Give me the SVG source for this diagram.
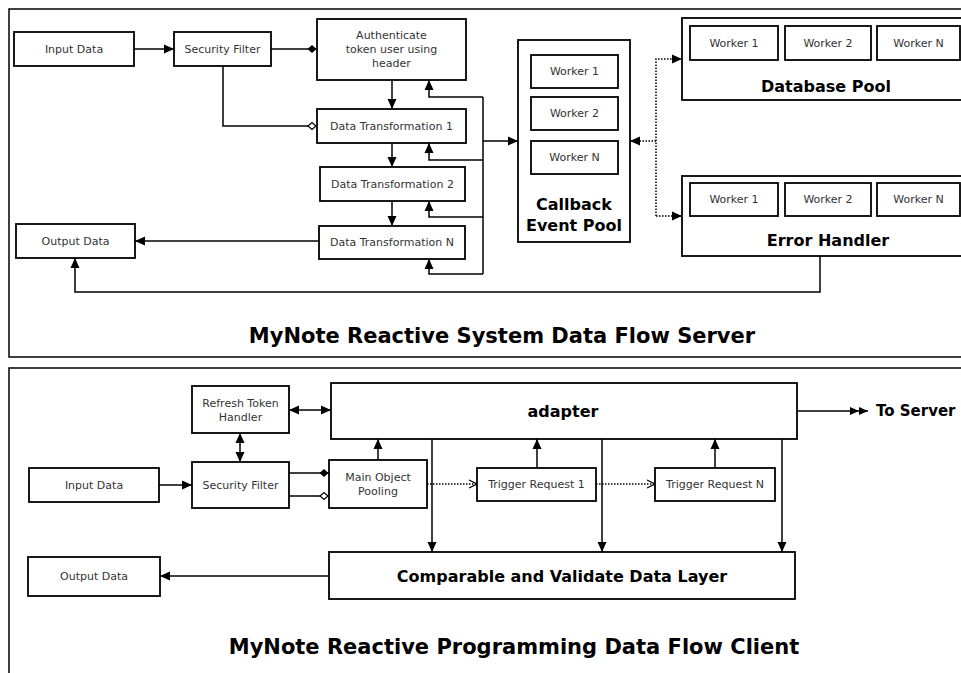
<svg xmlns="http://www.w3.org/2000/svg" width="961" height="673" viewBox="0 0 961 673">
<style>
.frame{fill:none;stroke:#000;stroke-width:1.5}
.box{fill:#fff;stroke:#000;stroke-width:1.8}
.t{font-family:"DejaVu Sans",sans-serif;font-size:11px;fill:#333;text-anchor:middle}
.b{font-family:"DejaVu Sans",sans-serif;font-weight:bold;font-size:16px;fill:#000;text-anchor:middle}
.title{font-family:"DejaVu Sans",sans-serif;font-weight:bold;font-size:21px;fill:#000;text-anchor:middle}
.c{fill:none;stroke:#000;stroke-width:1.5}
.d{fill:none;stroke:#000;stroke-width:1.5;stroke-dasharray:1.5,1.5}
</style>
<defs>
<marker id="arr" viewBox="0 0 10 10" markerUnits="userSpaceOnUse" markerWidth="10" markerHeight="10" refX="10" refY="5" orient="auto-start-reverse"><path d="M0,0.5 L10,5 L0,9.5 z" fill="#000"/></marker>
<marker id="dia" viewBox="0 0 10 10" markerUnits="userSpaceOnUse" markerWidth="10" markerHeight="10" refX="10" refY="5" orient="auto"><path d="M0.5,5 L5,1 L9.5,5 L5,9 z" fill="#000"/></marker>
<marker id="odia" viewBox="0 0 10 10" markerUnits="userSpaceOnUse" markerWidth="10" markerHeight="10" refX="10" refY="5" orient="auto"><path d="M1,5 L5,1.5 L9,5 L5,8.5 z" fill="#fff" stroke="#000" stroke-width="1.2"/></marker>
<marker id="vee" viewBox="0 0 10 10" markerUnits="userSpaceOnUse" markerWidth="10" markerHeight="10" refX="9" refY="5" orient="auto"><path d="M1,1 L9,5 L1,9" fill="none" stroke="#000" stroke-width="1.2"/></marker>
<marker id="dbl" viewBox="0 0 20 10" markerUnits="userSpaceOnUse" markerWidth="20" markerHeight="10" refX="18" refY="5" orient="auto"><path d="M0,1 L9,5 L0,9 z M9,1 L18,5 L9,9 z" fill="#000"/></marker>
</defs>

<g id="frames">
<rect class="frame" x="9" y="9" width="980" height="348"/>
<rect class="frame" x="9" y="368" width="980" height="340"/>
</g>

<g id="connectors">
<path class="c" d="M134,49 H174" marker-end="url(#arr)"/>
<path class="c" d="M271,49 H317" marker-end="url(#dia)"/>
<path class="c" d="M223,66 V126 H317" marker-end="url(#odia)"/>
<path class="c" d="M392,80 V109" marker-end="url(#arr)"/>
<path class="c" d="M392,143 V167" marker-end="url(#arr)"/>
<path class="c" d="M392,201 V226" marker-end="url(#arr)"/>
<path class="c" d="M483,97 H429 V80" marker-end="url(#arr)"/>
<path class="c" d="M483,97 V274"/>
<path class="c" d="M483,160 H429 V143" marker-end="url(#arr)"/>
<path class="c" d="M483,217 H429 V201" marker-end="url(#arr)"/>
<path class="c" d="M483,274 H429 V259" marker-end="url(#arr)"/>
<path class="c" d="M483,141 H518" marker-end="url(#arr)"/>
<path class="d" d="M656,141 H630" marker-end="url(#arr)"/>
<path class="d" d="M656,216 V59 H682" marker-end="url(#arr)"/>
<path class="d" d="M656,216 H682" marker-end="url(#arr)"/>
<path class="c" d="M319,241 H135" marker-end="url(#arr)"/>
<path class="c" d="M820,256 V292 H75 V258" marker-end="url(#arr)"/>

<path class="c" d="M159,485 H192" marker-end="url(#arr)"/>
<path class="c" d="M240,433 V462" marker-start="url(#arr)" marker-end="url(#arr)"/>
<path class="c" d="M289,410 H331" marker-start="url(#arr)" marker-end="url(#arr)"/>
<path class="c" d="M289,473 H329" marker-end="url(#dia)"/>
<path class="c" d="M289,496 H329" marker-end="url(#odia)"/>
<path class="c" d="M378,460 V439" marker-end="url(#arr)"/>
<path class="d" d="M427,484 H477" marker-end="url(#vee)"/>
<path class="c" d="M537,468 V439" marker-end="url(#arr)"/>
<path class="d" d="M596,484 H655" marker-end="url(#vee)"/>
<path class="c" d="M715,468 V439" marker-end="url(#arr)"/>
<path class="c" d="M432,439 V552" marker-end="url(#arr)"/>
<path class="c" d="M602,439 V552" marker-end="url(#arr)"/>
<path class="c" d="M782,439 V552" marker-end="url(#arr)"/>
<path class="c" d="M329,576 H160" marker-end="url(#arr)"/>
<path class="c" d="M797,411 H868" marker-end="url(#dbl)"/>
</g>

<g id="s-input"><rect class="box" x="14" y="32" width="120" height="34"/><text class="t" x="74" y="53">Input Data</text></g>
<g id="s-security"><rect class="box" x="174" y="32" width="97" height="34"/><text class="t" x="222.5" y="53">Security Filter</text></g>
<g id="s-auth"><rect class="box" x="317" y="19" width="149" height="61"/><text class="t" x="391.5" y="39">Authenticate</text><text class="t" x="391.5" y="53">token user using</text><text class="t" x="391.5" y="67">header</text></g>
<g id="s-dt1"><rect class="box" x="317" y="109" width="149" height="34"/><text class="t" x="391.5" y="130">Data Transformation 1</text></g>
<g id="s-dt2"><rect class="box" x="320" y="167" width="145" height="34"/><text class="t" x="392.5" y="188">Data Transformation 2</text></g>
<g id="s-dtn"><rect class="box" x="319" y="226" width="146" height="33"/><text class="t" x="392" y="246">Data Transformation N</text></g>
<g id="s-output"><rect class="box" x="16" y="224" width="119" height="34"/><text class="t" x="75.5" y="245">Output Data</text></g>
<g id="s-callback">
<rect class="box" x="518" y="40" width="112" height="202"/>
<rect class="box" x="531" y="55" width="87" height="33"/><text class="t" x="574.5" y="75">Worker 1</text>
<rect class="box" x="531" y="97" width="87" height="33"/><text class="t" x="574.5" y="117">Worker 2</text>
<rect class="box" x="531" y="141" width="87" height="33"/><text class="t" x="574.5" y="161">Worker N</text>
<text class="b" x="574" y="210">Callback</text><text class="b" x="574" y="231">Event Pool</text>
</g>
<g id="s-dbpool">
<rect class="box" x="682" y="18" width="300" height="82"/>
<rect class="box" x="690" y="26" width="88" height="34"/><text class="t" x="734" y="47">Worker 1</text>
<rect class="box" x="785" y="26" width="86" height="34"/><text class="t" x="828" y="47">Worker 2</text>
<rect class="box" x="877" y="26" width="83" height="34"/><text class="t" x="918.5" y="47">Worker N</text>
<text class="b" x="826" y="92">Database Pool</text>
</g>
<g id="s-error">
<rect class="box" x="682" y="176" width="300" height="80"/>
<rect class="box" x="690" y="183" width="88" height="33"/><text class="t" x="734" y="203">Worker 1</text>
<rect class="box" x="785" y="183" width="86" height="33"/><text class="t" x="828" y="203">Worker 2</text>
<rect class="box" x="877" y="183" width="83" height="33"/><text class="t" x="918.5" y="203">Worker N</text>
<text class="b" x="828" y="246">Error Handler</text>
</g>
<text class="title" x="502" y="343">MyNote Reactive System Data Flow Server</text>

<g id="c-refresh"><rect class="box" x="192" y="386" width="97" height="47"/><text class="t" x="240.5" y="407">Refresh Token</text><text class="t" x="240.5" y="421">Handler</text></g>
<g id="c-adapter"><rect class="box" x="331" y="383" width="466" height="56"/><text class="b" x="563" y="417">adapter</text></g>
<g id="c-input"><rect class="box" x="29" y="468" width="130" height="34"/><text class="t" x="94" y="489">Input Data</text></g>
<g id="c-security"><rect class="box" x="192" y="462" width="97" height="46"/><text class="t" x="240.5" y="489">Security Filter</text></g>
<g id="c-pool"><rect class="box" x="329" y="460" width="98" height="48"/><text class="t" x="378" y="481">Main Object</text><text class="t" x="378" y="495">Pooling</text></g>
<g id="c-tr1"><rect class="box" x="477" y="468" width="119" height="33"/><text class="t" x="536.5" y="488">Trigger Request 1</text></g>
<g id="c-trn"><rect class="box" x="655" y="468" width="120" height="33"/><text class="t" x="715" y="488">Trigger Request N</text></g>
<g id="c-compare"><rect class="box" x="329" y="552" width="466" height="47"/><text class="b" x="562" y="582">Comparable and Validate Data Layer</text></g>
<g id="c-output"><rect class="box" x="28" y="557" width="132" height="39"/><text class="t" x="94" y="580">Output Data</text></g>
<text class="b" x="876" y="416" style="text-anchor:start;font-size:15px">To Server</text>
<text class="title" x="514" y="654">MyNote Reactive Programming Data Flow Client</text>
</svg>
